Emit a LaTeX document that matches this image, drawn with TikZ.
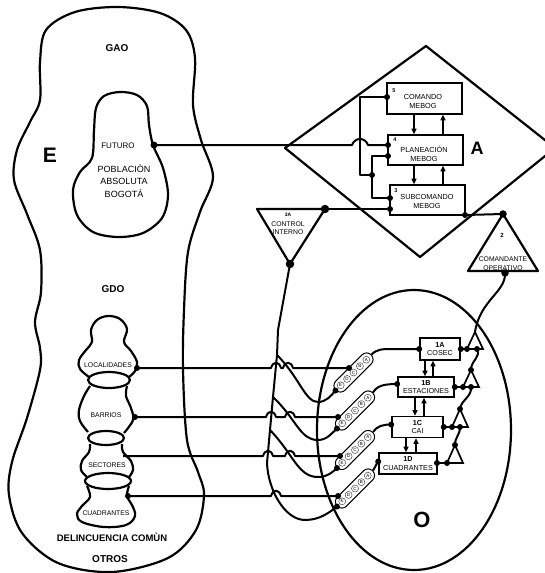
\documentclass[tikz,border=0pt]{standalone}
\usepackage{fontspec}
\setmainfont{Liberation Sans}
\usetikzlibrary{arrows.meta,calc,shapes.misc}
\begin{document}
\begin{tikzpicture}[x=1pt,y=-1pt,
  outl/.style={line width=2.2pt,line join=round},
  wire/.style={line width=2pt,line join=round},
  arr/.style={line width=1.4pt,-{Triangle[length=5.5pt,width=5pt]}},
  dotc/.style={circle,fill=black,inner sep=0pt,minimum size=#1},
  dotc/.default=6pt,
  boxn/.style 2 args={draw,line width=1.6pt,minimum width=#1,minimum height=#2,inner sep=0pt,align=center,font=\fontsize{7.2}{8.6}\selectfont},
  lbl/.style={font=\fontsize{7.3}{9}\selectfont,align=center,inner sep=0pt},
  small/.style={font=\fontsize{6.8}{8}\selectfont,align=center,inner sep=0pt},
  big/.style={font=\fontsize{10}{12}\selectfont\bfseries,inner sep=0pt},
  num/.style={font=\fontsize{5.5}{6}\selectfont\bfseries,inner sep=0pt},
  capsule/.style={draw,line width=1pt,rounded rectangle,minimum width=50pt,minimum height=13pt,inner sep=0pt,rotate=45},
  capl/.style={circle,draw=black!70,line width=0.5pt,inner sep=0pt,minimum size=7pt,font=\fontsize{4.5}{5}\selectfont},
  tri/.style={line width=1.7pt,line join=miter},
]
\useasboundingbox (0,0) rectangle (545,573);

% ---------- E region ----------
\draw[outl] plot[smooth cycle,tension=0.55] coordinates {
 (40,62) (46,30) (75,12) (118,7) (160,13) (186,30) (195,58) (193,105) (201,140)
 (213,177) (200,212) (188,252) (184,310) (183,370) (187,440) (198,472) (204,495)
 (196,530) (168,558) (112,572) (58,563) (22,533) (9,495) (12,462) (27,418)
 (40,370) (40,348) (35,322) (41,292) (40,250) (27,214) (14,180) (17,150) (30,122) (40,100)};
\node[big] (gao) at (117,48) {GAO};
\node[font=\fontsize{21}{24}\selectfont\bfseries,inner sep=0pt] (eL) at (50,155) {E};

% FUTURO bulb
\draw[outl] plot[smooth cycle,tension=0.55] coordinates {
 (120,92) (137,95) (147,106) (149,125) (153,145) (163,168) (168,195) (162,218)
 (143,233) (118,237) (93,232) (77,215) (73,190) (80,172) (92,158) (94,130) (96,108) (104,96)};
\node[font=\fontsize{8}{9}\selectfont,inner sep=0pt] (fut) at (118,146) {FUTURO};
\node[font=\fontsize{9}{12.5}\selectfont,align=center,inner sep=0pt] (pob) at (124,181) {POBLACIÒN\\ABSOLUTA\\BOGOTÁ};
\node[dotc=7pt] (futd) at (154,145) {};

% GDO chain
\node[big] (gdo) at (113,289) {GDO};
\draw[outl] plot[smooth,tension=0.6] coordinates {(89,377) (80,369) (79,360) (86,350) (92,342) (91,330) (97,320) (108,316) (120,319) (127,329) (124,342) (131,351) (137,362) (135,371) (129,377)};
\draw[outl] (109,380) ellipse [x radius=21pt,y radius=8pt];
\draw[outl] plot[smooth,tension=0.6] coordinates {(90,386) (84,396) (79,410) (80,421) (88,432)};
\draw[outl] plot[smooth,tension=0.6] coordinates {(127,386) (126,396) (131,408) (133,420) (124,433)};
\draw[outl] (106,438) ellipse [x radius=18pt,y radius=7pt];
\draw[outl] plot[smooth,tension=0.6] coordinates {(90,444) (89,452) (82,461) (81,470) (87,477)};
\draw[outl] plot[smooth,tension=0.6] coordinates {(122,444) (123,452) (131,461) (133,470) (129,477)};
\draw[outl] (108,481) ellipse [x radius=23pt,y radius=8pt];
\draw[outl] plot[smooth,tension=0.6] coordinates {(87,486) (90,497) (82,506) (77,514) (82,522) (104,527) (126,525) (135,516) (132,505) (127,496) (129,486)};
\node[small] (loc) at (108,365) {LOCALIDADES};
\node[small] (bar) at (106,415) {BARRIOS};
\node[small] (sec) at (107,465) {SECTORES};
\node[small] (cua) at (106,513) {CUADRANTES};
\node[font=\fontsize{9.5}{11}\selectfont\bfseries,inner sep=0pt] (del) at (112,537) {DELINCUENCIA COMÙN};
\node[big] (otr) at (110,559) {OTROS};

% ---------- A region ----------
\draw[outl] (426,46) -- (555,148) -- (420,257) -- (285,148) -- cycle;
\node[font=\fontsize{18}{20}\selectfont\bfseries,inner sep=0pt] (aL) at (477,148) {A};

\node[boxn={75pt}{31pt}] (b5) at (424.5,98.5) {};
\node[boxn={75pt}{30pt}] (b4) at (425.5,150) {};
\node[boxn={75pt}{30pt}] (b3) at (427.5,200) {};
\node[lbl] (t5) at (423,101.5) {COMANDO\\MEBOG};
\node[lbl] (t4) at (424,153.5) {PLANEACIÓN\\MEBOG};
\node[lbl] (t3) at (427,201.5) {SUBCOMANDO\\MEBOG};
\node[num] (n5) at (394,91) {5};
\node[num] (n4) at (395,140) {4};
\node[num] (n3) at (396,191) {3};

\coordinate (ax1) at (414,0);
\coordinate (ax2) at (443,0);
\draw[arr] (b5.south -| ax1) -- (b4.north -| ax1);
\draw[arr] (b4.north -| ax2) -- (b5.south -| ax2);
\draw[arr] (b4.south -| ax1) -- (b3.north -| ax1);
\draw[arr] (b3.north -| ax2) -- (b4.south -| ax2);

\node[dotc] (d5) at (387,97) {};
\node[dotc] (d4a) at (388,145) {};
\node[dotc] (d4b) at (388,156) {};
\node[dotc] (d3a) at (390,198) {};
\node[dotc] (d3b) at (390,209) {};
\node[dotc] (d3c) at (465,215) {};
\node[dotc] (dj) at (372,175) {};

\draw[wire] (futd.center) -- (352,145) .. controls (355,137) and (365,137) .. (368,145) -- (d4a.center);
\draw[wire] (d5.center) -- (360,97) -- (360,175) -- (dj.center);
\draw[wire] (d4b.center) -- (372,156) -- (372,198) -- (d3a.center);

% 3A triangle
\draw[outl] (257,209) -- (325,209) -- (290,264) -- cycle;
\node[dotc=8.5pt] (t3r) at (325,209) {};
\node[dotc=8.5pt] (t3b) at (290,264) {};
\node[num,font=\fontsize{5}{6}\selectfont\bfseries] (l3a) at (288,215) {3A};
\node[small,font=\fontsize{6.8}{8}\selectfont] (lci) at (288,228) {CONTROL\\INTERNO};
\draw[wire] (t3r.center) -- (d3b.center);

% 2 triangle
\draw[outl] (503,214) -- (538,271) -- (468,271) -- cycle;
\node[dotc=7.5pt] (t2a) at (503,214) {};
\node[dotc=7.5pt] (t2b) at (505,273) {};
\node[num,font=\fontsize{6}{7}\selectfont\bfseries] (l2) at (502,235) {2};
\node[small,font=\fontsize{6.8}{8.5}\selectfont] (lco) at (503,263.5) {COMANDANTE\\OPERATIVO};
\draw[wire] (d3c.center) -- (t2a.center);

% ---------- O region ----------
\draw[outl] (414,430) ellipse [x radius=97pt,y radius=140pt];
\node[font=\fontsize{22}{24}\selectfont\bfseries,inner sep=0pt] (oL) at (422,520) {O};

\node[boxn={40pt}{22pt}] (b1a) at (440,349) {\textbf{1A}\\COSEC};
\node[boxn={56pt}{20pt}] (b1b) at (426,387) {\textbf{1B}\\ESTACIONES};
\node[boxn={51pt}{21pt}] (b1c) at (417.5,427) {\textbf{1C}\\CAI};
\node[boxn={58pt}{21pt}] (b1d) at (408,463.5) {\textbf{1D}\\CUADRANTES};

\coordinate (ox1) at (425,0); \coordinate (ox2) at (433,0);
\coordinate (ox3) at (415,0); \coordinate (ox4) at (424,0);
\coordinate (ox5) at (406,0); \coordinate (ox6) at (416,0);
\draw[arr] (b1a.south -| ox1) -- (b1b.north -| ox1);
\draw[arr] (b1b.north -| ox2) -- (b1a.south -| ox2);
\draw[arr] (b1b.south -| ox3) -- (b1c.north -| ox3);
\draw[arr] (b1c.north -| ox4) -- (b1b.south -| ox4);
\draw[arr] (b1c.south -| ox5) -- (b1d.north -| ox5);
\draw[arr] (b1d.north -| ox6) -- (b1c.south -| ox6);

% small triangles
\coordinate (ta1) at (475,332); \coordinate (ta2) at (471,370);
\coordinate (ta3) at (460,409); \coordinate (ta4) at (455,445);
\draw[tri] (ta1) -- (483,349) -- (467,349) -- cycle;
\draw[tri] (ta2) -- (479,387) -- (463,387) -- cycle;
\draw[tri] (ta3) -- (468,427) -- (452,427) -- cycle;
\draw[tri] (ta4) -- (463,463) -- (447,463) -- cycle;

\node[dotc] (e1) at (b1a.east) {};
\node[dotc] (e1b) at (467,349) {};
\node[dotc] (e1c) at (477,349) {};
\node[dotc] (e2) at (b1b.east) {};
\node[dotc] (e2b) at (463,387) {};
\node[dotc] (e2c) at (471,387) {};
\node[dotc] (e3) at (b1c.east) {};
\node[dotc] (e3b) at (452,427) {};
\node[dotc] (e3c) at (460,427) {};
\node[dotc] (e4) at (437,463) {};
\node[dotc] (e4b) at (447,463) {};
\node[dotc] (a2) at (ta2) {};
\node[dotc] (a3) at (ta3) {};
\node[dotc] (a4) at (ta4) {};

\draw[wire] (e1.center) -- (483,349);
\draw[wire] (e2.center) -- (479,387);
\draw[wire] (e3.center) -- (468,427);
\draw[wire] (e4.center) -- (463,463);
\draw[wire] (e1c.center) .. controls (481,358) and (471,360) .. (a2.center);
\draw[wire] (e2c.center) .. controls (472,397) and (461,400) .. (a3.center);
\draw[wire] (e3c.center) .. controls (460,435) and (455,437) .. (a4.center);
\draw[wire] (t2b.center) .. controls (506,292) and (480,300) .. (ta1);

% capsules
\foreach \n/\cx/\cy in {1/353.5/372.5,2/355/410.5,3/355/450,4/355/488.5}{
  \node[capsule,fill=white] (cap\n) at (\cx,\cy) {};
  \foreach \L/\k in {E/-2,D/-1,C/0,B/1,A/2}
    \node[capl] (c\n\L) at ({\cx+6.4*\k},{\cy-6.4*\k}) {\L};
}

\node[dotc] (da1) at (b1a.west) {};
\node[dotc] (da2) at ([yshift=3pt]b1b.west) {};
\node[dotc] (da3) at ([yshift=2.5pt]b1c.west) {};
\node[dotc] (da4) at ([yshift=2pt]b1d.west) {};
\draw[wire] (cap1.east) .. controls (377,349) and (383,349) .. (392,349) -- (da1.center);
\draw[wire] (cap2.east) .. controls (377,386) and (383,384) .. (da2.center);
\draw[wire] (cap3.east) .. controls (377,426) and (383,424.5) .. (da3.center);
\draw[wire] (cap4.east) .. controls (376,466) and (377,462) .. (da4.center);

% trunk and branches from 3A
\coordinate (s1) at (277,355); \coordinate (s2) at (273,397);
\coordinate (s3) at (270,430); \coordinate (s4) at (267,463);
\draw[wire] (t3b.center) -- (278,330) -- (s1) -- (s2) -- (s3) -- (s4)
  .. controls (268,490) and (285,520) .. (305,520) .. controls (320,520) and (330,512) .. (cap4.west);
\draw[wire] (s1) .. controls (300,378) and (305,402) .. (318,402) .. controls (326,402) and (331,396) .. (cap1.west);
\draw[wire] (s2) .. controls (297,420) and (300,440) .. (318,440) .. controls (327,440) and (332,433) .. (cap2.west);
\draw[wire] (s3) .. controls (294,455) and (298,477) .. (318,477) .. controls (327,477) and (333,472) .. (cap3.west);
\foreach \n in {1,2,3,4} \node[dotc] (ce\n) at (cap\n.west) {};

% horizontal lines GDO -> capsules
\node[dotc] (gl1) at (137,368) {};
\node[dotc] (gl2) at (135,417) {};
\coordinate (gl3) at (123,456);
\node[dotc] (gl4) at (128,496) {};
\node[dotc] (dc1) at (349,368) {};
\node[dotc] (dc2) at (338,417) {};
\node[dotc] (dc3) at (340,456) {};
\node[dotc] (dc4) at (338,496) {};
\draw[wire] (gl1.center) -- (271,368) .. controls (273,361) and (279,361) .. (281,368)
  -- (283,368) .. controls (285,361) and (291,361) .. (293,368) -- (dc1.center);
\draw[wire] (gl2.center) -- (266,417) .. controls (268,410) and (274,410) .. (276,417)
  -- (285,417) .. controls (287,410) and (293,410) .. (295,417) -- (dc2.center);
\draw[wire] (gl3) -- (263,456) .. controls (265,449) and (271,449) .. (273,456)
  -- (285,456) .. controls (287,449) and (293,449) .. (295,456) -- (dc3.center);
\draw[wire] (gl4.center) -- (271,496) .. controls (273,489) and (279,489) .. (281,496) -- (dc4.center);
\end{tikzpicture}
\end{document}
